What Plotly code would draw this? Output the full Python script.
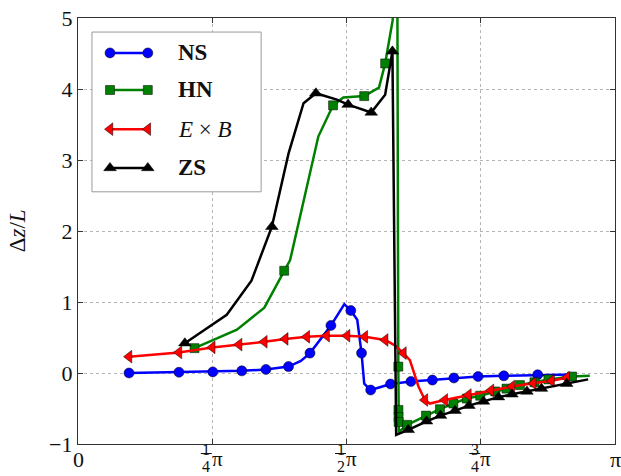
import plotly.graph_objects as go

# x positions are in units of pi
ns_x = [0.095, 0.188, 0.251, 0.305, 0.350, 0.392, 0.415, 0.432, 0.471, 0.496, 0.508, 0.520,
        0.528, 0.533, 0.545, 0.582, 0.620, 0.660, 0.700, 0.745, 0.793, 0.856, 0.920]
ns_y = [0.0, 0.01, 0.015, 0.03, 0.05, 0.09, 0.17, 0.28, 0.67, 0.97, 0.88, 0.75,
        0.28, -0.15, -0.24, -0.155, -0.12, -0.10, -0.07, -0.05, -0.04, -0.025, -0.02]
ns_marks = [0, 1, 2, 3, 4, 5, 7, 8, 10, 12, 14, 15, 16, 17, 18, 19, 20, 21]

hn_x = [0.217, 0.296, 0.347, 0.384, 0.395, 0.4475, 0.475, 0.494, 0.533, 0.5605, 0.572, 0.586,
        0.5935, 0.5965, 0.5967, 0.5969, 0.5971, 0.5975, 0.613, 0.648, 0.674, 0.699, 0.724,
        0.749, 0.777, 0.798, 0.823, 0.850, 0.876, 0.920, 0.953]
hn_y = [0.35, 0.61, 0.92, 1.44, 1.59, 3.33, 3.77, 3.88, 3.90, 4.02, 4.36, 4.97,
        9.0, 0.09, -0.52, -0.62, -0.69, -0.83, -0.73, -0.60, -0.51, -0.43, -0.36,
        -0.32, -0.26, -0.22, -0.17, -0.13, -0.09, -0.05, -0.04]
hn_marks = [0, 3, 6, 8, 10, 13, 14, 15, 16, 18, 19, 20, 21, 22, 23, 24, 25, 26, 27, 28, 29]

eb_x = [0.095, 0.188, 0.250, 0.300, 0.347, 0.386, 0.426, 0.463, 0.501, 0.534, 0.572, 0.590,
        0.606, 0.618, 0.634, 0.646, 0.655, 0.683, 0.727, 0.769, 0.808, 0.848, 0.882, 0.910]
eb_y = [0.23, 0.29, 0.36, 0.40, 0.44, 0.48, 0.51, 0.525, 0.525, 0.51, 0.465, 0.39,
        0.28, 0.18, -0.19, -0.38, -0.43, -0.38, -0.31, -0.245, -0.19, -0.145, -0.11, -0.066]
eb_marks = [0, 1, 2, 3, 4, 5, 6, 7, 8, 9, 10, 12, 15, 17, 18, 19, 20, 21, 22, 23]

zs_x = [0.199, 0.277, 0.323, 0.361, 0.392, 0.420, 0.443, 0.482, 0.503, 0.546, 0.572, 0.5855,
        0.5925, 0.615, 0.649, 0.675, 0.702, 0.728, 0.755, 0.783, 0.808, 0.836, 0.863, 0.910, 0.950]
zs_y = [0.42, 0.82, 1.30, 2.06, 3.09, 3.80, 3.94, 3.85, 3.78, 3.67, 3.92, 4.53,
        -0.87, -0.80, -0.68, -0.60, -0.53, -0.46, -0.40, -0.34, -0.30, -0.26, -0.22, -0.15, -0.09]
zs_marks = [0, 3, 6, 8, 9, 11, 13, 14, 15, 16, 17, 18, 19, 20, 21, 22, 23]

y_ticks = [-1, 0, 1, 2, 3, 4, 5]
y_ticktext = ["\u22121", "0", "1", "2", "3", "4", "5"]
x_ticks = [0, 0.25, 0.5, 0.75, 1.0]
frac_num = ["", "1", "1", "3", ""]
frac_den = ["", "4", "2", "4", ""]
plain_x_labels = {0: "0", 1.0: "\u03c0"}

series = [
    ("NS", ns_x, ns_y, ns_marks, "#0000ff", "circle", 10),
    ("HN", hn_x, hn_y, hn_marks, "#008000", "square", 9),
    ("E×B", eb_x, eb_y, eb_marks, "#ff0000", "triangle-left", 11),
    ("ZS", zs_x, zs_y, zs_marks, "#000000", "triangle-up", 11),
]
legend_labels = ["<b>NS</b>", "<b>HN</b>", "<i>E</i> \u00d7 <i>B</i>", "<b>ZS</b>"]

SERIF = "Liberation Serif"
TXT = "#111111"
fig = go.Figure()

for name, xs, ys, marks, color, symbol, size in series:
    fig.add_trace(go.Scatter(x=xs, y=ys, mode="lines", line=dict(color=color, width=2.5),
                             showlegend=False, hoverinfo="skip"))
    fig.add_trace(go.Scatter(x=[xs[i] for i in marks], y=[ys[i] for i in marks], mode="markers",
                             marker=dict(color=color, symbol=symbol, size=size,
                                         line=dict(color="#000000", width=0.5)),
                             showlegend=False, hoverinfo="skip"))

# Hand-drawn legend box in the upper-left corner of the axes (overlay axes span 0..1)
leg_x0, leg_x1, leg_y0, leg_y1 = 0.026, 0.341, 0.592, 0.967
row_y = [0.918, 0.831, 0.739, 0.648]
sample_x = [0.0596, 0.130]
fig.add_trace(go.Scatter(x=[leg_x0, leg_x1, leg_x1, leg_x0, leg_x0],
                         y=[leg_y0, leg_y0, leg_y1, leg_y1, leg_y0],
                         xaxis="x2", yaxis="y2", mode="lines", fill="toself",
                         fillcolor="white", line=dict(color="#9a9a9a", width=1),
                         showlegend=False, hoverinfo="skip"))
for (name, xs, ys, marks, color, symbol, size), ry, lab in zip(series, row_y, legend_labels):
    fig.add_trace(go.Scatter(x=sample_x, y=[ry, ry], xaxis="x2", yaxis="y2", mode="lines+markers",
                             line=dict(color=color, width=2.5),
                             marker=dict(color=color, symbol=symbol, size=size,
                                         line=dict(color="#000000", width=0.5)),
                             showlegend=False, hoverinfo="skip"))
    fig.add_annotation(xref="paper", yref="paper", x=0.1825, y=ry, text=lab, showarrow=False,
                       xanchor="left", yanchor="middle",
                       font=dict(family=SERIF, size=23, color=TXT))

# x tick labels: stacked fractions of pi (x axis spans 0..1 over the paper width)
for xv, num, den in zip(x_ticks, frac_num, frac_den):
    if num:
        fig.add_annotation(xref="paper", yref="paper", x=xv, y=0, text=num, showarrow=False,
                           xanchor="center", yanchor="middle", xshift=-6, yshift=-5,
                           font=dict(family=SERIF, size=16, color=TXT))
        fig.add_annotation(xref="paper", yref="paper", x=xv, y=0, text=den, showarrow=False,
                           xanchor="center", yanchor="middle", xshift=-6, yshift=-22,
                           font=dict(family=SERIF, size=16, color=TXT))
        fig.add_annotation(xref="paper", yref="paper", x=xv, y=0, text="\u03c0", showarrow=False,
                           xanchor="center", yanchor="middle", xshift=5, yshift=-15,
                           font=dict(family=SERIF, size=21, color=TXT))
        fig.add_shape(type="line", xref="paper", yref="paper",
                      x0=xv - 11.5 / 537, x1=xv - 0.5 / 537, y0=-9.5 / 426, y1=-9.5 / 426,
                      line=dict(color=TXT, width=1))
    else:
        fig.add_annotation(xref="paper", yref="paper", x=xv, y=0, text=plain_x_labels[xv],
                           showarrow=False, xanchor="center", yanchor="middle", yshift=-15,
                           font=dict(family=SERIF, size=22, color=TXT))

# y axis title
fig.add_annotation(xref="paper", yref="paper", x=-0.113, y=0.5, text="\u0394<i>z</i>/<i>L</i>",
                   textangle=-90, showarrow=False, xanchor="center", yanchor="middle",
                   font=dict(family=SERIF, size=23, color=TXT))

fig.update_layout(
    width=621, height=476,
    margin=dict(l=78, r=6, t=18, b=32),
    paper_bgcolor="white", plot_bgcolor="white",
    showlegend=False,
    font=dict(family=SERIF, color=TXT),
    xaxis=dict(range=[0, 1], tickvals=x_ticks, showticklabels=False,
               showgrid=True, gridcolor="#b5b5b5", griddash="dot", gridwidth=1,
               showline=True, linecolor="#333333", linewidth=1.2, mirror="ticks",
               ticks="inside", ticklen=5, tickcolor="#333333", zeroline=False),
    yaxis=dict(range=[-1, 5], tickvals=y_ticks, ticktext=y_ticktext,
               showgrid=True, gridcolor="#b5b5b5", griddash="dot", gridwidth=1,
               showline=True, linecolor="#333333", linewidth=1.2, mirror="ticks",
               ticks="inside", ticklen=5, tickcolor="#333333", zeroline=False,
               tickfont=dict(family=SERIF, size=22, color=TXT)),
    xaxis2=dict(range=[0, 1], overlaying="x", visible=False),
    yaxis2=dict(range=[0, 1], overlaying="y", visible=False),
)

fig.write_html("out.html")
